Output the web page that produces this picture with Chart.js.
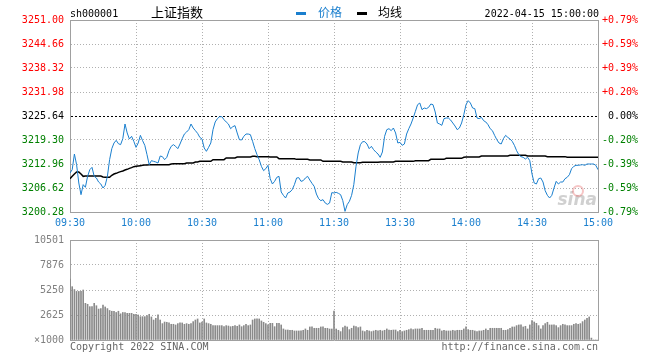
<!DOCTYPE html>
<html><head><meta charset="utf-8">
<script src="https://cdn.jsdelivr.net/npm/chart.js@4/dist/chart.umd.min.js"></script>
<style>
html,body{margin:0;padding:0;background:#fff;}
#wrap{position:relative;width:660px;height:360px;overflow:hidden;background:#fff;}
canvas{position:absolute;left:0;top:0;}
</style></head><body>
<div id="wrap"><canvas id="price" width="660" height="360"></canvas><canvas id="vol" width="660" height="360"></canvas></div>
<script>
// ---------- data ----------
const symbol = 'sh000001';
const indexName = '上证指数';
const dateStr = '2022-04-15 15:00:00';
const seriesNames = ['价格', '均线'];
const prevClose = 3225.64;
const priceTicks = [3200.28, 3206.62, 3212.96, 3219.30, 3225.64, 3231.98, 3238.32, 3244.66, 3251.00];
const pctLabels = ['-0.79%', '-0.59%', '-0.39%', '-0.20%', ' 0.00%', '+0.20%', '+0.39%', '+0.59%', '+0.79%'];
const timeTickPos = [0, 30, 60, 90, 120, 150, 180, 210, 240];
const timeLabels = ['09:30', '10:00', '10:30', '11:00', '11:30', '13:30', '14:00', '14:30', '15:00'];
const volTicks = [0, 2625, 5250, 7876, 10501];
const volTickLabels = ['×1000', '2625', '5250', '7876', '10501'];

const price = [
3210.58,3211.46,3215.60,3212.78,3207.94,3204.86,3207.50,3206.80,3209.70,3211.46,
3212.08,3209.70,3209.26,3208.20,3207.68,3206.62,3207.32,3209.70,3214.10,3217.01,
3218.51,3219.21,3218.33,3218.07,3219.65,3223.53,3221.15,3219.56,3220.27,3218.95,
3217.36,3218.51,3220.53,3219.12,3217.89,3215.43,3212.78,3213.84,3213.66,3213.49,
3213.22,3215.07,3214.90,3214.10,3214.72,3216.48,3217.63,3218.07,3217.63,3217.01,
3218.24,3219.65,3220.89,3221.41,3222.03,3223.53,3222.47,3221.77,3221.06,3220.00,
3219.56,3217.19,3216.31,3217.36,3218.51,3222.03,3224.06,3224.94,3225.46,3225.46,
3224.67,3224.06,3223.53,3222.29,3222.82,3223.09,3221.15,3219.39,3219.30,3220.27,
3220.88,3220.88,3220.71,3218.95,3217.01,3215.43,3214.10,3212.34,3211.20,3211.73,
3212.61,3209.08,3207.68,3208.38,3209.44,3209.70,3205.56,3204.68,3203.98,3205.30,
3205.56,3206.18,3207.50,3209.26,3209.35,3208.38,3208.56,3209.26,3209.70,3208.73,
3207.85,3207.06,3205.03,3203.80,3203.27,3203.54,3202.66,3202.30,3202.66,3205.39,
3205.30,3205.47,3205.21,3204.86,3203.27,3200.45,3202.22,3203.10,3204.68,3207.50,
3212.34,3215.87,3218.07,3218.86,3218.86,3218.24,3217.01,3217.63,3216.75,3216.13,
3215.60,3214.72,3216.13,3220.27,3222.03,3222.29,3221.77,3222.47,3221.15,3218.51,
3218.68,3217.89,3218.24,3220.88,3222.29,3223.53,3225.11,3226.87,3228.63,3229.07,
3227.31,3227.75,3227.58,3227.93,3228.81,3228.63,3226.70,3223.79,3223.53,3223.17,
3224.94,3225.11,3225.11,3224.58,3223.79,3223.00,3222.03,3222.47,3223.79,3225.99,
3228.63,3229.69,3229.07,3227.75,3227.58,3225.11,3224.94,3225.29,3224.41,3224.06,
3223.35,3222.29,3221.77,3220.53,3219.39,3218.51,3218.24,3219.65,3220.53,3220.00,
3219.56,3218.95,3217.89,3216.48,3215.43,3214.90,3214.72,3214.28,3214.72,3213.84,
3210.32,3207.94,3207.68,3209.08,3209.26,3208.20,3205.91,3204.68,3203.98,3204.68,
3206.62,3208.38,3207.68,3208.20,3208.20,3209.08,3209.44,3210.14,3211.73,3212.34,
3212.61,3212.61,3212.70,3212.78,3212.61,3212.96,3212.96,3212.96,3212.96,3212.61,
3211.46
];

const avgPrice = [
3209.08,3209.70,3210.32,3210.85,3210.85,3210.32,3209.70,3209.79,3209.79,3209.79,
3209.79,3209.79,3209.79,3209.79,3209.79,3209.53,3209.44,3209.44,3209.44,3209.97,
3210.32,3210.50,3210.76,3210.94,3211.11,3211.37,3211.55,3211.81,3211.99,3212.25,
3212.34,3212.43,3212.52,3212.61,3212.70,3212.70,3212.78,3212.78,3212.78,3212.78,
3212.78,3212.78,3212.78,3212.78,3212.78,3212.78,3212.96,3213.05,3213.05,3213.05,
3213.05,3213.05,3213.05,3213.22,3213.22,3213.22,3213.22,3213.49,3213.49,3213.66,
3213.66,3213.66,3213.66,3213.66,3213.66,3214.10,3214.10,3214.10,3214.10,3214.10,
3214.10,3214.54,3214.54,3214.54,3214.54,3214.54,3214.81,3214.81,3214.81,3214.81,
3214.81,3214.81,3214.81,3214.98,3214.98,3214.90,3214.90,3214.90,3214.90,3214.90,
3214.90,3214.81,3214.81,3214.81,3214.81,3214.37,3214.37,3214.37,3214.37,3214.37,
3214.37,3214.37,3214.37,3214.19,3214.19,3214.19,3214.19,3214.19,3214.19,3214.02,
3214.02,3214.02,3214.02,3214.02,3214.02,3213.66,3213.66,3213.66,3213.66,3213.66,
3213.66,3213.66,3213.66,3213.66,3213.49,3213.49,3213.49,3213.49,3213.49,3213.31,
3213.31,3213.31,3213.31,3213.40,3213.40,3213.40,3213.40,3213.40,3213.40,3213.40,
3213.40,3213.49,3213.49,3213.49,3213.49,3213.49,3213.49,3213.49,3213.66,3213.66,
3213.66,3213.66,3213.66,3213.66,3213.66,3213.66,3213.66,3213.84,3213.84,3213.84,
3213.84,3213.84,3213.84,3213.84,3214.19,3214.19,3214.19,3214.19,3214.19,3214.19,
3214.19,3214.46,3214.46,3214.46,3214.46,3214.46,3214.46,3214.46,3214.46,3214.72,
3214.81,3214.81,3214.81,3214.81,3214.81,3214.81,3214.81,3215.07,3215.07,3215.07,
3215.07,3215.07,3215.07,3215.07,3215.07,3215.07,3215.07,3215.07,3215.07,3215.07,
3215.25,3215.25,3215.25,3215.25,3215.25,3215.25,3215.25,3215.25,3215.07,3215.07,
3215.07,3215.07,3215.07,3215.07,3215.07,3215.07,3215.07,3214.90,3214.90,3214.90,
3214.90,3214.90,3214.90,3214.90,3214.90,3214.90,3214.72,3214.72,3214.72,3214.72,
3214.72,3214.72,3214.72,3214.72,3214.72,3214.72,3214.72,3214.72,3214.72,3214.72,
3214.72
];

const volume = [
6400,5600,5300,5100,5100,5100,5250,3850,3750,3500,
3500,3850,3600,3250,3300,3680,3470,3300,3100,3020,
3020,2890,3020,2750,2890,2890,2800,2800,2800,2700,
2700,2630,2450,2450,2450,2560,2700,2420,2100,2280,
2630,2100,1720,1890,1860,1790,1650,1650,1580,1720,
1790,1790,1650,1720,1650,1720,1930,2100,2210,1790,
1890,2210,1790,1720,1650,1510,1510,1510,1510,1510,
1400,1510,1470,1400,1440,1510,1440,1580,1400,1510,
1650,1510,1580,2100,2210,2210,2210,2000,1860,1720,
1580,1750,1750,1400,1750,1750,1580,1160,1050,1050,
1020,1020,950,950,950,950,1020,1160,1020,1370,
1370,1230,1230,1230,1370,1370,1230,1230,1155,1155,
3045,1155,1020,880,1300,1470,1370,1090,1230,1470,
1400,1300,1370,950,880,1020,950,880,950,1020,
950,1020,950,1020,1160,1050,1020,1050,1050,880,
1020,880,950,1020,1090,1160,1090,1160,1160,1160,
1230,1020,1020,1020,1020,1020,1230,1160,1160,950,
1020,950,950,950,1020,950,1020,1020,1020,1160,
1370,1090,1020,1020,950,880,950,950,1020,1160,
1020,1230,1230,1230,1230,1230,1230,1020,1020,1090,
1230,1370,1370,1510,1580,1580,1370,1440,1160,1580,
2030,1890,1750,1510,1160,1510,1720,1860,1580,1580,
1580,1510,1300,1510,1650,1580,1510,1510,1510,1650,
1720,1650,1720,1930,2100,2280,2420,200,0,0,
0
];

// ---------- styles ----------
const MONO = "'DejaVu Sans Mono','Liberation Mono',monospace";
const CJK = "'Noto Sans CJK SC','Noto Sans',sans-serif";
const BLUE = '#1a7fce';
const GRID = '#b0b0b0';
const FRAME = '#a0a0a0';
const RED = '#ff0000', GREEN = '#008000';
const labelColor = c => c.index < 4 ? GREEN : (c.index === 4 ? '#000' : RED);

const headerPlugin = {
  id: 'header',
  beforeDatasetsDraw(chart) {
    const ctx = chart.ctx;
    ctx.save();
    ctx.font = "italic bold 17px 'DejaVu Sans',sans-serif";
    ctx.fillStyle = 'rgba(150,150,150,0.45)';
    ctx.textAlign = 'right';
    ctx.textBaseline = 'alphabetic';
    ctx.fillText('sina', 597, 205);
    ctx.strokeStyle = 'rgba(230,90,90,0.35)';
    ctx.lineWidth = 2;
    ctx.beginPath();
    ctx.arc(578, 191, 5, 0, Math.PI * 2);
    ctx.stroke();
    ctx.restore();
  },
  afterDraw(chart) {
    const ctx = chart.ctx;
    ctx.save();
    ctx.textBaseline = 'alphabetic';
    ctx.textAlign = 'left';
    ctx.fillStyle = '#000';
    ctx.font = '10px ' + MONO;
    ctx.fillText(symbol, 70, 17);
    ctx.font = '13px ' + CJK;
    ctx.fillText(indexName, 151, 17);
    ctx.font = '12px ' + CJK;
    ctx.fillStyle = BLUE;
    ctx.fillRect(296, 12, 10, 3);
    ctx.fillText(seriesNames[0], 318, 17);
    ctx.fillStyle = '#000';
    ctx.fillRect(357, 12, 10, 3);
    ctx.fillText(seriesNames[1], 378, 17);
    ctx.font = '10px ' + MONO;
    ctx.textAlign = 'right';
    ctx.fillText(dateStr, 599, 17);
    ctx.restore();
  }
};

new Chart(document.getElementById('price'), {
  type: 'line',
  data: {
    datasets: [
      { label: seriesNames[0], data: price.map((v, i) => ({ x: i, y: v })), borderColor: BLUE, borderWidth: 1, pointRadius: 0, tension: 0, order: 1 },
      { label: seriesNames[1], data: avgPrice.map((v, i) => ({ x: i, y: v })), borderColor: '#000', borderWidth: 1.5, pointRadius: 0, tension: 0, order: 2 }
    ]
  },
  options: {
    responsive: false, animation: false, devicePixelRatio: 1, events: [],
    layout: { padding: { top: 20, bottom: 125, left: 0, right: 0 } },
    plugins: { legend: { display: false }, tooltip: { enabled: false } },
    scales: {
      x: {
        type: 'linear', min: 0, max: 240, offset: false,
        afterBuildTicks: s => { s.ticks = timeTickPos.map(v => ({ value: v })); },
        afterFit: s => { s.height = 23; },
        ticks: { autoSkip: false, maxRotation: 0, padding: 5, color: BLUE, font: { family: MONO, size: 10 }, callback: (v, i) => timeLabels[i] },
        grid: { drawTicks: false, offset: false, color: c => (c.index === 0 || c.index === 8) ? 'rgba(0,0,0,0)' : GRID, lineWidth: 1 },
        border: { display: true, color: FRAME, width: 1, dash: [1, 2] }
      },
      y: {
        type: 'linear', position: 'left', min: priceTicks[0], max: priceTicks[8],
        afterBuildTicks: s => { s.ticks = priceTicks.map(v => ({ value: v })); },
        afterFit: s => { s.width = 70; },
        ticks: { padding: 6, color: labelColor, font: { family: MONO, size: 10 }, callback: (v, i) => priceTicks[i].toFixed(2) },
        grid: { drawTicks: false, lineWidth: 1, color: c => c.index === 0 ? 'rgba(0,0,0,0)' : (c.index === 4 ? '#000' : (c.index === 8 ? FRAME : GRID)) },
        border: { display: true, color: FRAME, width: 1, dash: c => c.index === 4 ? [2, 2] : (c.index === 8 ? [] : [1, 2]) }
      },
      y2: {
        type: 'linear', position: 'right', min: priceTicks[0], max: priceTicks[8],
        afterBuildTicks: s => { s.ticks = priceTicks.map(v => ({ value: v })); },
        afterFit: s => { s.width = 62; },
        ticks: { padding: 4, color: labelColor, font: { family: MONO, size: 10 }, callback: (v, i) => pctLabels[i] },
        grid: { display: false, drawTicks: false },
        border: { display: true, color: FRAME, width: 1 }
      }
    }
  },
  plugins: [headerPlugin]
});

const footerPlugin = {
  id: 'footer',
  afterDraw(chart) {
    const ctx = chart.ctx;
    ctx.save();
    ctx.font = '10px ' + MONO;
    ctx.fillStyle = '#666';
    ctx.textBaseline = 'alphabetic';
    ctx.textAlign = 'left';
    ctx.fillText('Copyright 2022 SINA.COM', 70, 350);
    ctx.textAlign = 'right';
    ctx.fillText('http://finance.sina.com.cn', 598, 350);
    ctx.restore();
  }
};

new Chart(document.getElementById('vol'), {
  type: 'bar',
  data: {
    datasets: [{ data: volume.map((v, i) => ({ x: i, y: v })), backgroundColor: '#8a8a8a', borderWidth: 0, barThickness: 1 }]
  },
  options: {
    responsive: false, animation: false, devicePixelRatio: 1, events: [],
    layout: { padding: { top: 240, bottom: 0, left: 0, right: 62 } },
    plugins: { legend: { display: false }, tooltip: { enabled: false } },
    scales: {
      x: {
        type: 'linear', min: 0, max: 240, offset: false,
        afterBuildTicks: s => { s.ticks = timeTickPos.map(v => ({ value: v })); },
        afterFit: s => { s.height = 20; },
        ticks: { display: false },
        grid: { drawTicks: false, offset: false, lineWidth: 1, color: c => c.index === 0 ? 'rgba(0,0,0,0)' : (c.index === 8 ? FRAME : GRID) },
        border: { display: true, color: FRAME, width: 1, dash: c => c.index === 8 ? [] : [1, 2] }
      },
      y: {
        type: 'linear', position: 'left', min: volTicks[0], max: volTicks[4],
        afterBuildTicks: s => { s.ticks = volTicks.map(v => ({ value: v })); },
        afterFit: s => { s.width = 70; },
        ticks: { padding: 6, color: '#808080', font: { family: MONO, size: 10 }, callback: (v, i) => volTickLabels[i] },
        grid: { drawTicks: false, lineWidth: 1, color: c => c.index === 0 ? 'rgba(0,0,0,0)' : (c.index === 4 ? FRAME : GRID) },
        border: { display: true, color: FRAME, width: 1, dash: c => c.index === 4 ? [] : [1, 2] }
      }
    }
  },
  plugins: [footerPlugin]
});
</script>
</body></html>
